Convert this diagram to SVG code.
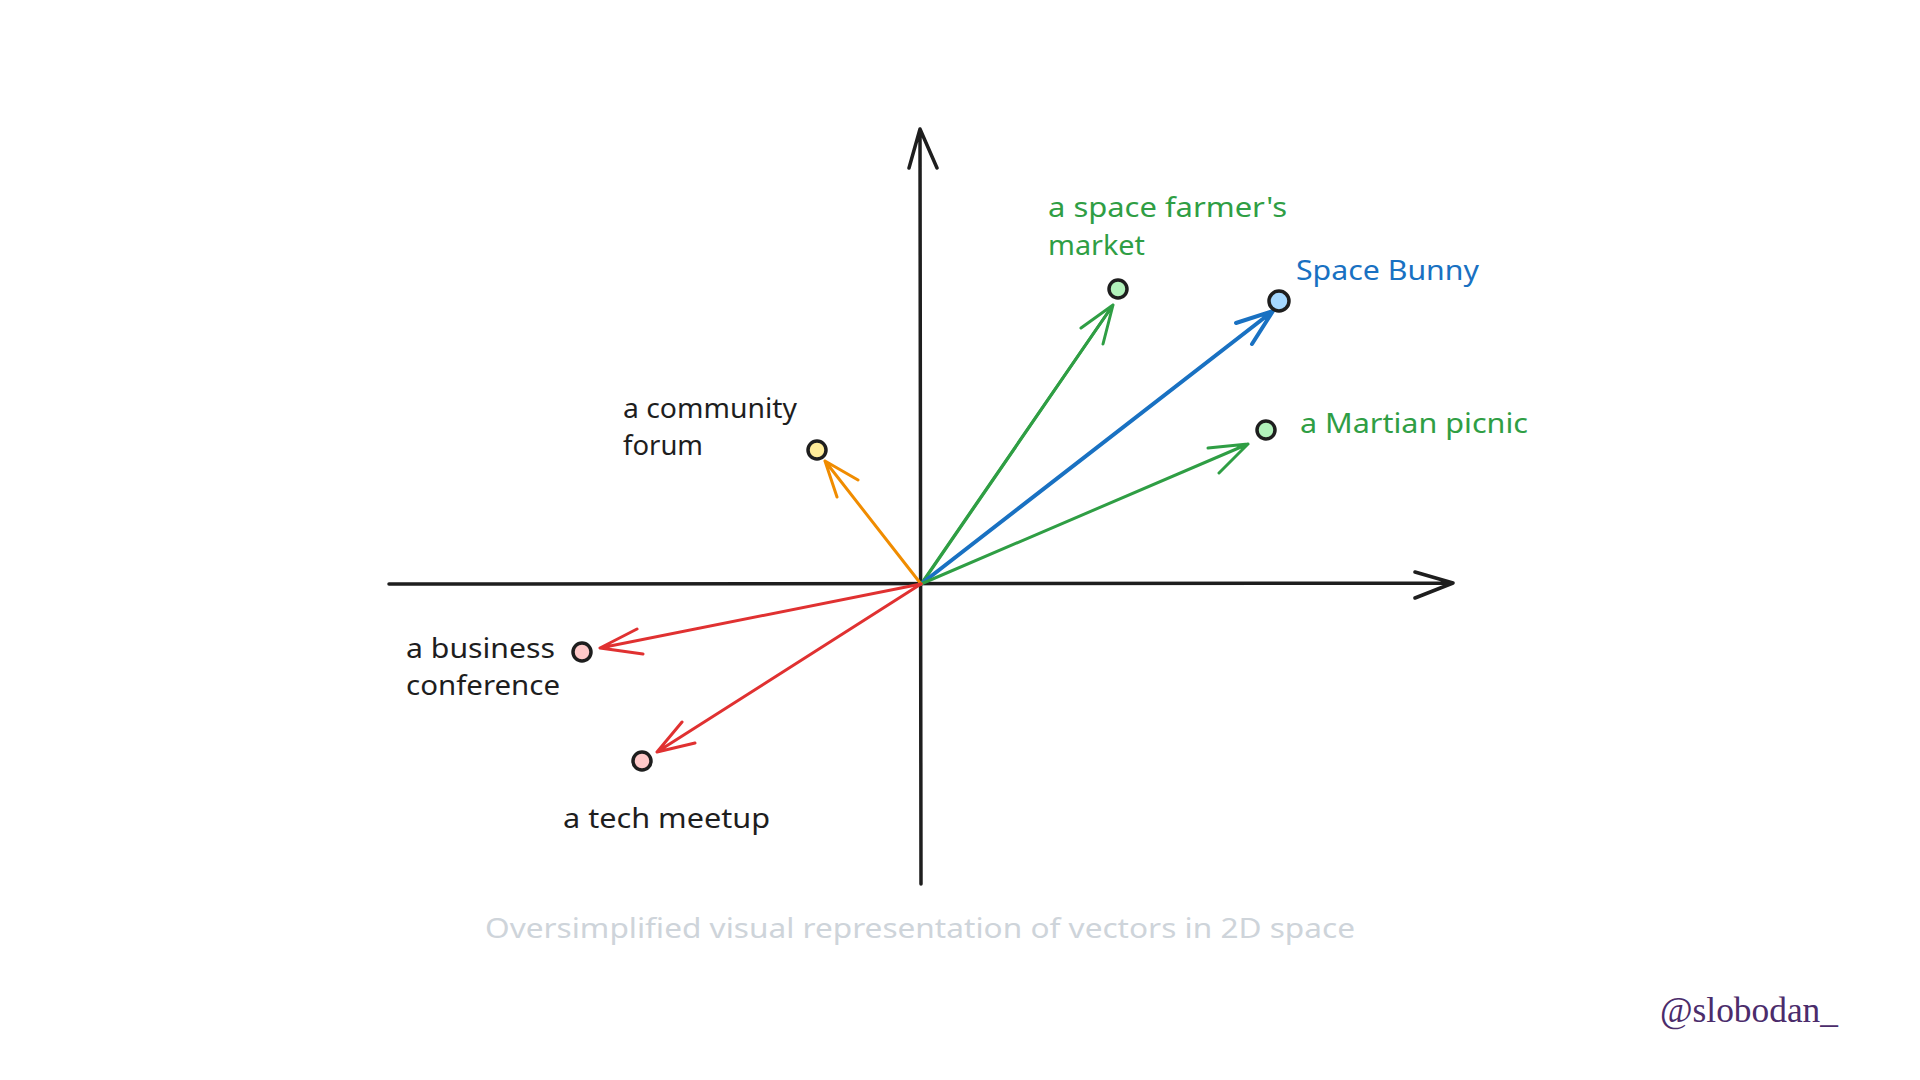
<svg xmlns="http://www.w3.org/2000/svg" width="1920" height="1080" viewBox="0 0 1920 1080">
<style>
.axis{fill:none;stroke:#1e1e1e;stroke-width:3.5;stroke-linecap:round;stroke-linejoin:round}
.vec{fill:none;stroke-width:3;stroke-linecap:round;stroke-linejoin:round}
.green{stroke:#2f9e44}
.blue{stroke:#1971c2;stroke-width:4}
.orange{stroke:#f08c00}
.red{stroke:#e03131}
.dot{stroke:#1e1e1e;stroke-width:3.5}
.lbl{font-family:"Noto Sans","Liberation Sans",sans-serif;font-size:28px}
.tg{fill:#2f9e44}
.tb{fill:#1971c2}
.tk{fill:#1e1e1e}
.cap{font-family:"Noto Sans","Liberation Sans",sans-serif;font-size:28px;fill:#ced4da}
.wm{font-family:"Liberation Serif",serif;font-size:35px;fill:#4b2c6b}
</style>
<rect width="1920" height="1080" fill="#ffffff"/>
<g id="axes">
<path class="axis" d="M921 884 L920 130 M909 168 L920 129 L937 168"/>
<path class="axis" d="M389 584 L1453 583 M1415 572 L1453 583 L1415 598"/>
</g>
<g id="connectors">
<path class="vec green" d="M921 584 L1113 305 M1081 328 L1113 305 L1103 344"/>
<path class="vec green" d="M923 582 L1111 308" stroke-width="1.5"/>
<path class="vec blue" d="M921 584 L1273 311 M1236 323 L1273 311 L1252 344"/>
<path class="vec green" d="M921 584 L1248 444 M1208 448 L1248 444 L1219 473"/>
<path class="vec orange" d="M921 584 L825 461 M858 480 L825 461 L837 497"/>
<path class="vec red" d="M921 584 L600 648 M637 629 L600 648 L643 654"/>
<path class="vec red" d="M921 584 L657 752 M682 722 L657 752 L695 743"/>
</g>
<g id="node-farmers-market">
<circle class="dot" cx="1118" cy="289" r="9" fill="#b2f2bb"/>
<text class="lbl tg" x="1048" y="217" textLength="239" lengthAdjust="spacingAndGlyphs">a space farmer's</text>
<text class="lbl tg" x="1048" y="255" textLength="97" lengthAdjust="spacingAndGlyphs">market</text>
</g>
<g id="node-space-bunny">
<circle class="dot" cx="1279" cy="301" r="10" fill="#a5d8ff"/>
<text class="lbl tb" x="1296" y="280" textLength="183" lengthAdjust="spacingAndGlyphs">Space Bunny</text>
</g>
<g id="node-martian-picnic">
<circle class="dot" cx="1266" cy="430" r="9" fill="#b2f2bb"/>
<text class="lbl tg" x="1300" y="433" textLength="228" lengthAdjust="spacingAndGlyphs">a Martian picnic</text>
</g>
<g id="node-community-forum">
<circle class="dot" cx="817" cy="450" r="9" fill="#ffec99"/>
<text class="lbl tk" x="623" y="418" textLength="174" lengthAdjust="spacingAndGlyphs">a community</text>
<text class="lbl tk" x="623" y="455" textLength="80" lengthAdjust="spacingAndGlyphs">forum</text>
</g>
<g id="node-business-conference">
<circle class="dot" cx="582" cy="652" r="9" fill="#ffc9c9"/>
<text class="lbl tk" x="406" y="658" textLength="149" lengthAdjust="spacingAndGlyphs">a business</text>
<text class="lbl tk" x="406" y="695" textLength="154" lengthAdjust="spacingAndGlyphs">conference</text>
</g>
<g id="node-tech-meetup">
<circle class="dot" cx="642" cy="761" r="9" fill="#ffc9c9"/>
<text class="lbl tk" x="563" y="828" textLength="207" lengthAdjust="spacingAndGlyphs">a tech meetup</text>
</g>
<text class="cap" x="485" y="938" textLength="870" lengthAdjust="spacingAndGlyphs">Oversimplified visual representation of vectors in 2D space</text>
<text class="wm" x="1660" y="1022" textLength="178" lengthAdjust="spacingAndGlyphs">@slobodan_</text>
</svg>
